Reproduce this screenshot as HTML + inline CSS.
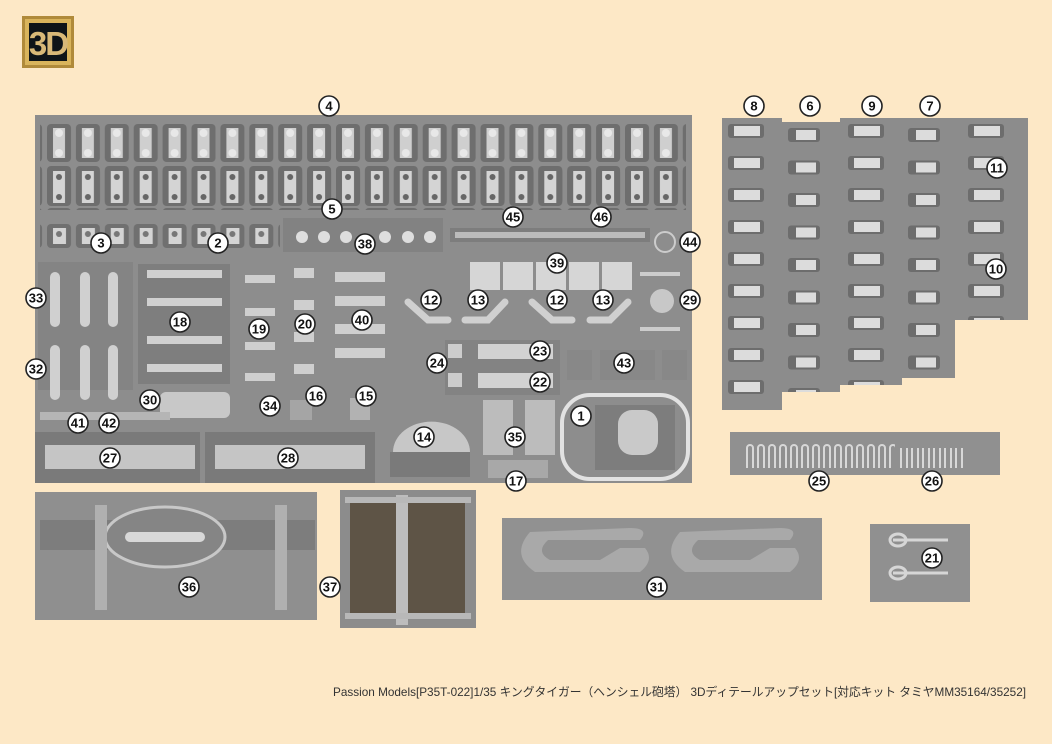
<!DOCTYPE html>
<html><head><meta charset="utf-8"><style>
html,body{margin:0;padding:0;background:#fde8c6;}
svg{display:block}
.l circle{fill:#fff;stroke:#222;stroke-width:1.6}
.l text{font:bold 13px "Liberation Sans",sans-serif;fill:#111;text-anchor:middle;dominant-baseline:central}
</style></head><body>
<svg width="1052" height="744" viewBox="0 0 1052 744" xmlns="http://www.w3.org/2000/svg">
<defs>
<pattern id="p1" x="45" y="122" width="28.9" height="42" patternUnits="userSpaceOnUse">
<rect x="2" y="2" width="24" height="38" fill="#6e6e6e" rx="4"/>
<rect x="8" y="6" width="12" height="30" fill="#cfcfcf"/>
<circle cx="14" cy="11" r="4" fill="#e8e8e8"/><circle cx="14" cy="31" r="4" fill="#e8e8e8"/>
</pattern>
<pattern id="p2" x="45" y="166" width="28.9" height="42" patternUnits="userSpaceOnUse">
<rect x="2" y="2" width="24" height="38" fill="#6e6e6e" rx="4"/>
<rect x="8" y="5" width="12" height="32" fill="#d4d4d4"/>
<circle cx="14" cy="11" r="3" fill="#666"/><circle cx="14" cy="31" r="3" fill="#666"/>
</pattern>
<pattern id="p3" x="45" y="222" width="28.9" height="30" patternUnits="userSpaceOnUse">
<rect x="2" y="2" width="24" height="24" fill="#707070" rx="4"/>
<rect x="8" y="6" width="13" height="16" fill="#d4d4d4"/>
<circle cx="14" cy="12" r="3" fill="#777"/>
</pattern>
<pattern id="pc" x="722" y="118" width="60" height="32" patternUnits="userSpaceOnUse">
<rect x="6" y="6" width="36" height="14" fill="#6d6d6d" rx="3"/>
<rect x="12" y="8" width="26" height="10" fill="#dcdcdc"/>
</pattern>
<pattern id="pc2" x="782" y="122" width="60" height="32.5" patternUnits="userSpaceOnUse">
<rect x="6" y="6" width="32" height="14" fill="#6d6d6d" rx="3"/>
<rect x="14" y="8" width="20" height="10" fill="#dcdcdc"/>
</pattern>
<pattern id="tines" x="745" y="440" width="11" height="30" patternUnits="userSpaceOnUse">
<path d="M2 28 V8 a3 3 0 0 1 6 0 V28" fill="none" stroke="#d8d8d8" stroke-width="2"/>
</pattern>
</defs>

<rect x="22" y="16" width="52" height="52" fill="#b08a3a"/>
<rect x="25" y="19" width="46" height="46" fill="#d9b45c"/>
<rect x="29" y="23" width="38" height="38" fill="#0e1418"/>
<text x="48" y="55" font-family="Liberation Sans,sans-serif" font-weight="bold" font-size="33" fill="#d8b978" text-anchor="middle" letter-spacing="-2">3D</text>

<rect x="35" y="115" width="657" height="368" fill="#8d8d8d"/>
<rect x="40" y="120" width="646" height="90" fill="url(#p1)"/>
<rect x="40" y="164" width="646" height="44" fill="url(#p2)"/>
<rect x="40" y="218" width="240" height="34" fill="url(#p3)"/>
<rect x="283" y="218" width="160" height="34" fill="#828282"/>
<g fill="#dedede"><circle cx="302" cy="237" r="6"/><circle cx="324" cy="237" r="6"/><circle cx="346" cy="237" r="6"/><circle cx="385" cy="237" r="6"/><circle cx="408" cy="237" r="6"/><circle cx="430" cy="237" r="6"/></g>
<rect x="450" y="228" width="200" height="14" fill="#7d7d7d"/>
<rect x="455" y="232" width="190" height="6" fill="#bbb"/>
<rect x="38" y="262" width="95" height="128" fill="#848484"/>
<g fill="#d0d0d0"><rect x="50" y="272" width="10" height="55" rx="5"/><rect x="80" y="272" width="10" height="55" rx="5"/><rect x="108" y="272" width="10" height="55" rx="5"/>
<rect x="50" y="345" width="10" height="55" rx="5"/><rect x="80" y="345" width="10" height="55" rx="5"/><rect x="108" y="345" width="10" height="55" rx="5"/></g>
<rect x="138" y="264" width="92" height="120" fill="#7e7e7e"/>
<g fill="#d0d0d0"><rect x="147" y="270" width="75" height="8"/><rect x="147" y="298" width="75" height="8"/><rect x="147" y="336" width="75" height="8"/><rect x="147" y="364" width="75" height="8"/></g>
<g fill="#cfcfcf"><rect x="245" y="275" width="30" height="8"/><rect x="245" y="308" width="30" height="8"/><rect x="245" y="342" width="30" height="8"/><rect x="245" y="373" width="30" height="8"/>
<rect x="294" y="268" width="20" height="10"/><rect x="294" y="300" width="20" height="10"/><rect x="294" y="332" width="20" height="10"/><rect x="294" y="364" width="20" height="10"/>
<rect x="335" y="272" width="50" height="10"/><rect x="335" y="296" width="50" height="10"/><rect x="335" y="324" width="50" height="10"/><rect x="335" y="348" width="50" height="10"/></g>
<rect x="160" y="392" width="70" height="26" rx="6" fill="#c8c8c8"/>
<rect x="40" y="412" width="130" height="8" fill="#b5b5b5"/>
<rect x="290" y="400" width="22" height="20" fill="#a5a5a5"/><rect x="350" y="398" width="20" height="22" fill="#b2b2b2"/>
<g fill="#d6d6d6"><rect x="470" y="262" width="30" height="28"/><rect x="503" y="262" width="30" height="28"/><rect x="536" y="262" width="30" height="28"/><rect x="569" y="262" width="30" height="28"/><rect x="602" y="262" width="30" height="28"/></g>
<g stroke="#d0d0d0" stroke-width="7" fill="none" stroke-linecap="round"><path d="M408 302 L428 320 L448 320"/><path d="M505 302 L488 320 L465 320"/><path d="M532 302 L552 320 L572 320"/><path d="M628 302 L610 320 L590 320"/></g>
<rect x="640" y="272" width="40" height="4" fill="#ccc"/><rect x="640" y="327" width="40" height="4" fill="#ccc"/><circle cx="662" cy="301" r="12" fill="#c8c8c8"/>
<circle cx="665" cy="242" r="10" fill="none" stroke="#ccc" stroke-width="2"/>
<rect x="445" y="340" width="115" height="55" fill="#838383"/>
<rect x="478" y="344" width="75" height="15" fill="#d2d2d2"/><rect x="478" y="373" width="75" height="15" fill="#d2d2d2"/>
<rect x="448" y="344" width="14" height="14" fill="#ccc"/><rect x="448" y="373" width="14" height="14" fill="#ccc"/>
<rect x="567" y="350" width="25" height="30" fill="#888"/><rect x="600" y="350" width="55" height="30" fill="#888"/><rect x="662" y="350" width="25" height="30" fill="#888"/>
<path d="M393 452 A38 30 0 0 1 470 452 Z" fill="#c7c7c7"/><rect x="390" y="452" width="80" height="25" fill="#7a7a7a"/>
<rect x="483" y="400" width="30" height="55" fill="#bcbcbc"/><rect x="525" y="400" width="30" height="55" fill="#bcbcbc"/>
<rect x="488" y="460" width="60" height="18" fill="#a8a8a8"/>
<rect x="562" y="395" width="126" height="84" rx="28" fill="none" stroke="#e2e2e2" stroke-width="4"/>
<rect x="595" y="405" width="80" height="65" fill="#7d7d7d"/><rect x="618" y="410" width="40" height="45" rx="14" fill="#c9c9c9"/>
<rect x="35" y="432" width="165" height="51" fill="#7a7a7a"/>
<rect x="205" y="432" width="170" height="51" fill="#7a7a7a"/>
<rect x="45" y="445" width="150" height="24" fill="#c5c5c5"/><rect x="215" y="445" width="150" height="24" fill="#c5c5c5"/>

<rect x="722" y="118" width="60" height="292" fill="#8c8c8c"/>
<rect x="722" y="118" width="60" height="292" fill="url(#pc)"/>
<rect x="782" y="122" width="58" height="270" fill="#8c8c8c"/>
<rect x="782" y="122" width="58" height="270" fill="url(#pc2)"/>
<rect x="840" y="118" width="62" height="267" fill="#8c8c8c"/>
<rect x="840" y="118" width="62" height="267" fill="url(#pc)"/>
<rect x="902" y="118" width="53" height="260" fill="#8c8c8c"/>
<rect x="902" y="118" width="53" height="260" fill="url(#pc2)"/>
<rect x="955" y="118" width="73" height="202" fill="#8c8c8c"/>
<rect x="955" y="118" width="73" height="202" fill="url(#pc)"/>

<rect x="730" y="432" width="270" height="43" fill="#909090"/>
<rect x="745" y="440" width="150" height="30" fill="url(#tines)"/>
<rect x="900" y="448" width="66" height="22" fill="url(#tines)"/>

<rect x="35" y="492" width="282" height="128" fill="#8f8f8f"/>
<rect x="40" y="520" width="275" height="30" fill="#7d7d7d"/>
<ellipse cx="165" cy="537" rx="60" ry="30" fill="#858585" stroke="#c8c8c8" stroke-width="3"/>
<rect x="125" y="532" width="80" height="10" rx="5" fill="#d8d8d8"/>
<rect x="95" y="505" width="12" height="105" fill="#b0b0b0"/><rect x="275" y="505" width="12" height="105" fill="#b0b0b0"/>
<rect x="340" y="490" width="136" height="138" fill="#8c8c8c"/>
<rect x="350" y="500" width="115" height="118" fill="#5e5446"/>
<rect x="396" y="495" width="12" height="130" fill="#bdbdbd"/>
<rect x="345" y="497" width="126" height="6" fill="#b8b8b8"/><rect x="345" y="613" width="126" height="6" fill="#b8b8b8"/>
<rect x="502" y="518" width="320" height="82" fill="#919191"/>
<path d="M530 532 Q510 555 535 572 L640 572 Q655 560 645 548 L620 548 L600 560 L550 560 Q535 552 548 540 L640 540 Q650 528 630 528 Z" fill="#a9a9a9"/>
<path d="M680 532 Q660 555 685 572 L790 572 Q805 560 795 548 L770 548 L750 560 L700 560 Q685 552 698 540 L790 540 Q800 528 780 528 Z" fill="#a9a9a9"/>
<rect x="870" y="524" width="100" height="78" fill="#909090"/>
<g stroke="#d6d6d6" stroke-width="3" fill="none"><path d="M893 540 h55"/><path d="M893 573 h55"/><ellipse cx="898" cy="540" rx="8" ry="6"/><ellipse cx="898" cy="573" rx="8" ry="6"/></g>

<text x="1026" y="696" text-anchor="end" textLength="693" lengthAdjust="spacingAndGlyphs" font-family="'Liberation Sans','Noto Sans CJK JP',sans-serif" font-size="12" fill="#333">Passion Models[P35T-022]1/35 キングタイガー（ヘンシェル砲塔） 3Dディテールアップセット[対応キット タミヤMM35164/35252]</text>

<g class="l">
<g transform="translate(329,106)"><circle r="10"/><text>4</text></g>
<g transform="translate(754,106)"><circle r="10"/><text>8</text></g>
<g transform="translate(810,106)"><circle r="10"/><text>6</text></g>
<g transform="translate(872,106)"><circle r="10"/><text>9</text></g>
<g transform="translate(930,106)"><circle r="10"/><text>7</text></g>
<g transform="translate(997,168)"><circle r="10"/><text>11</text></g>
<g transform="translate(996,269)"><circle r="10"/><text>10</text></g>
<g transform="translate(332,209)"><circle r="10"/><text>5</text></g>
<g transform="translate(513,217)"><circle r="10"/><text>45</text></g>
<g transform="translate(601,217)"><circle r="10"/><text>46</text></g>
<g transform="translate(101,243)"><circle r="10"/><text>3</text></g>
<g transform="translate(218,243)"><circle r="10"/><text>2</text></g>
<g transform="translate(365,244)"><circle r="10"/><text>38</text></g>
<g transform="translate(690,242)"><circle r="10"/><text>44</text></g>
<g transform="translate(557,263)"><circle r="10"/><text>39</text></g>
<g transform="translate(36,298)"><circle r="10"/><text>33</text></g>
<g transform="translate(180,322)"><circle r="10"/><text>18</text></g>
<g transform="translate(259,329)"><circle r="10"/><text>19</text></g>
<g transform="translate(305,324)"><circle r="10"/><text>20</text></g>
<g transform="translate(362,320)"><circle r="10"/><text>40</text></g>
<g transform="translate(431,300)"><circle r="10"/><text>12</text></g>
<g transform="translate(478,300)"><circle r="10"/><text>13</text></g>
<g transform="translate(557,300)"><circle r="10"/><text>12</text></g>
<g transform="translate(603,300)"><circle r="10"/><text>13</text></g>
<g transform="translate(690,300)"><circle r="10"/><text>29</text></g>
<g transform="translate(36,369)"><circle r="10"/><text>32</text></g>
<g transform="translate(437,363)"><circle r="10"/><text>24</text></g>
<g transform="translate(540,351)"><circle r="10"/><text>23</text></g>
<g transform="translate(540,382)"><circle r="10"/><text>22</text></g>
<g transform="translate(624,363)"><circle r="10"/><text>43</text></g>
<g transform="translate(150,400)"><circle r="10"/><text>30</text></g>
<g transform="translate(270,406)"><circle r="10"/><text>34</text></g>
<g transform="translate(316,396)"><circle r="10"/><text>16</text></g>
<g transform="translate(366,396)"><circle r="10"/><text>15</text></g>
<g transform="translate(78,423)"><circle r="10"/><text>41</text></g>
<g transform="translate(109,423)"><circle r="10"/><text>42</text></g>
<g transform="translate(581,416)"><circle r="10"/><text>1</text></g>
<g transform="translate(424,437)"><circle r="10"/><text>14</text></g>
<g transform="translate(515,437)"><circle r="10"/><text>35</text></g>
<g transform="translate(110,458)"><circle r="10"/><text>27</text></g>
<g transform="translate(288,458)"><circle r="10"/><text>28</text></g>
<g transform="translate(516,481)"><circle r="10"/><text>17</text></g>
<g transform="translate(819,481)"><circle r="10"/><text>25</text></g>
<g transform="translate(932,481)"><circle r="10"/><text>26</text></g>
<g transform="translate(189,587)"><circle r="10"/><text>36</text></g>
<g transform="translate(330,587)"><circle r="10"/><text>37</text></g>
<g transform="translate(657,587)"><circle r="10"/><text>31</text></g>
<g transform="translate(932,558)"><circle r="10"/><text>21</text></g>
</g>
</svg>
</body></html>
